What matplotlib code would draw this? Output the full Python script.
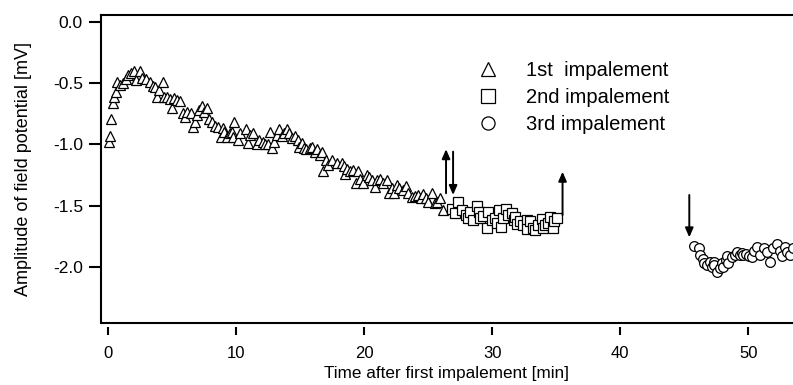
import matplotlib.pyplot as plt

# 1st impalement (triangles)
t1 = [0.10, 0.16, 0.23, 0.37, 0.47, 0.60, 0.68, 0.94, 1.15, 1.40, 1.59, 1.77,
      2.03, 2.19, 2.50, 2.63, 2.97, 3.28, 3.49, 3.67, 3.85, 4.00, 4.32, 4.40,
      4.58, 4.84, 5.03, 5.16, 5.37, 5.63, 5.83, 6.04, 6.20, 6.46, 6.67, 6.80,
      6.98, 7.13, 7.32, 7.50, 7.71, 7.92, 8.10, 8.36, 8.62, 8.80, 8.96, 9.06,
      9.27, 9.53, 9.66, 9.74, 9.84, 10.18, 10.30, 10.78, 10.96, 11.10, 11.35,
      11.60, 11.82, 12.14, 12.27, 12.50, 12.66, 12.84, 12.97, 13.18, 13.38,
      13.57, 13.75, 14.00, 14.17, 14.35, 14.60, 14.80, 14.95, 15.14, 15.30,
      15.47, 15.78, 15.96, 16.17, 16.35, 16.56, 16.70, 16.82, 17.03, 17.20,
      17.48, 17.90, 18.26, 18.40, 18.52, 18.70, 18.90, 19.16, 19.38, 19.55,
      19.70, 19.95, 20.20, 20.40, 20.60, 20.86, 21.00, 21.25, 21.50, 21.77,
      21.98, 22.16, 22.34, 22.55, 22.76, 23.02, 23.28, 23.46, 23.73, 23.98,
      24.24, 24.43, 24.63, 24.84, 25.03, 25.29, 25.55, 25.73, 25.94, 26.20]
v1 = [-0.98, -0.93, -0.79, -0.665, -0.61, -0.57, -0.49, -0.515, -0.50, -0.47,
      -0.43, -0.42, -0.40, -0.475, -0.40, -0.46, -0.47, -0.49, -0.52, -0.535,
      -0.615, -0.56, -0.49, -0.61, -0.61, -0.63, -0.706, -0.624, -0.64, -0.65,
      -0.747, -0.78, -0.733, -0.747, -0.856, -0.815, -0.76, -0.72, -0.69,
      -0.733, -0.70, -0.79, -0.82, -0.85, -0.856, -0.94, -0.87, -0.90, -0.94,
      -0.91, -0.897, -0.94, -0.82, -0.965, -0.91, -0.877, -0.99, -0.924,
      -0.905, -1.00, -0.965, -0.98, -1.00, -1.00, -0.897, -1.03, -0.98, -0.924,
      -0.877, -0.93, -0.91, -0.873, -0.91, -0.95, -0.93, -0.965, -1.025, -0.99,
      -1.03, -1.04, -1.03, -1.02, -1.06, -1.04, -1.09, -1.06, -1.22, -1.13,
      -1.17, -1.13, -1.15, -1.155, -1.18, -1.245, -1.20, -1.22, -1.21, -1.32,
      -1.22, -1.28, -1.32, -1.25, -1.265, -1.29, -1.35, -1.29, -1.28, -1.32,
      -1.29, -1.395, -1.36, -1.395, -1.33, -1.36, -1.37, -1.34, -1.40, -1.43,
      -1.42, -1.41, -1.44, -1.405, -1.44, -1.47, -1.395, -1.48, -1.47, -1.44,
      -1.54]

# 2nd impalement (squares)
t2 = [26.85, 27.10, 27.37, 27.63, 27.97, 28.15, 28.28, 28.54, 28.80, 29.00,
      29.06, 29.32, 29.58, 29.70, 29.97, 30.23, 30.36, 30.50, 30.68, 30.88,
      31.10, 31.27, 31.54, 31.67, 31.80, 31.98, 32.19, 32.45, 32.70, 32.76,
      32.97, 33.18, 33.36, 33.62, 33.88, 34.00, 34.14, 34.40, 34.53, 34.74,
      34.84, 35.05]
v2 = [-1.53, -1.565, -1.47, -1.54, -1.58, -1.60, -1.55, -1.62, -1.505, -1.55,
      -1.605, -1.585, -1.686, -1.55, -1.62, -1.605, -1.645, -1.537, -1.673,
      -1.605, -1.53, -1.58, -1.56, -1.62, -1.59, -1.65, -1.63, -1.66, -1.62,
      -1.695, -1.63, -1.68, -1.70, -1.66, -1.61, -1.686, -1.66, -1.64, -1.597,
      -1.686, -1.63, -1.605]

# 3rd impalement (circles)
t3 = [45.78, 46.12, 46.25, 46.46, 46.56, 46.77, 46.98, 47.16, 47.30, 47.34,
      47.55, 47.76, 47.95, 48.07, 48.28, 48.33, 48.46, 48.73, 48.98, 49.16,
      49.38, 49.50, 49.63, 49.84, 50.10, 50.30, 50.47, 50.68, 50.94, 51.20,
      51.50, 51.72, 51.93, 52.24, 52.45, 52.63, 52.89, 53.07, 53.28, 53.49]
v3 = [-1.83, -1.85, -1.905, -1.94, -1.97, -1.986, -1.96, -2.00, -1.96, -1.986,
      -2.04, -2.01, -1.97, -2.00, -1.945, -1.91, -1.97, -1.92, -1.905, -1.877,
      -1.905, -1.885, -1.905, -1.896, -1.91, -1.92, -1.87, -1.837, -1.905,
      -1.85, -1.877, -1.96, -1.85, -1.815, -1.87, -1.91, -1.837, -1.877,
      -1.905, -1.85]

# arrows: x, tail y, head y
arrow_x = [26.4, 26.95, 35.5, 45.4]
arrow_from = [-1.40, -1.06, -1.578, -1.414]
arrow_to = [-1.04, -1.414, -1.224, -1.76]

labels = ['1st  impalement', '2nd impalement', '3rd impalement']
xticks = [0, 10, 20, 30, 40, 50]
yticks = [0.0, -0.5, -1.0, -1.5, -2.0]


def main():
    plt.rcParams['font.family'] = ['Liberation Sans', 'DejaVu Sans']
    plt.rcParams['axes.unicode_minus'] = False

    fig = plt.figure(figsize=(7.93, 3.85), dpi=100)
    ax = fig.add_axes([101 / 793, 62.3 / 385, 692 / 793, 307.7 / 385])

    mk = dict(linestyle='none', markerfacecolor='white', markeredgecolor='black',
              markeredgewidth=0.9, clip_on=True)
    ax.plot(t1, v1, marker='^', markersize=7.5, label=labels[0], **mk)
    ax.plot(t2, v2, marker='s', markersize=7, label=labels[1], **mk)
    ax.plot(t3, v3, marker='o', markersize=7, label=labels[2], **mk)

    for x, y0, y1 in zip(arrow_x, arrow_from, arrow_to):
        ax.annotate('', xy=(x, y1), xytext=(x, y0),
                    arrowprops=dict(arrowstyle='-|>,head_length=0.55,head_width=0.24',
                                    color='black', lw=1.4, shrinkA=0, shrinkB=0))

    ax.set_xlim(-0.55, 53.5)
    ax.set_ylim(-2.457, 0.056)
    ax.set_xticks(xticks)
    ax.set_yticks(yticks)
    ax.set_yticklabels(['{:.1f}'.format(v) for v in yticks])

    ax.spines['right'].set_visible(False)
    for s in ['top', 'left']:
        ax.spines[s].set_linewidth(1.5)
    # x ticks hang slightly below the frame line
    ax.spines['bottom'].set_position(('outward', 3))
    ax.spines['bottom'].set_visible(False)
    ax.plot([0, 1], [0, 0], transform=ax.transAxes, color='black', lw=1.5,
            clip_on=False, solid_capstyle='butt')

    ax.tick_params(axis='y', direction='out', length=9, width=1.5, labelsize=12.5, pad=4)
    ax.tick_params(axis='x', direction='out', length=6, width=1.5, labelsize=12, pad=8)

    ax.set_xlabel('Time after first impalement [min]', fontsize=12.3, labelpad=3.5)
    ax.set_ylabel('Amplitude of field potential [mV]', fontsize=13, labelpad=15)

    ax.legend(loc='upper left', bbox_to_anchor=(476 / 793, 1 - 61 / 385),
              bbox_transform=fig.transFigure, frameon=False, fontsize=14.5,
              markerscale=1.35, handlelength=1.2, handletextpad=1.3,
              labelspacing=0.4, borderpad=0, borderaxespad=0)

    fig.savefig('out.png', dpi=100)


if __name__ == '__main__':
    main()
